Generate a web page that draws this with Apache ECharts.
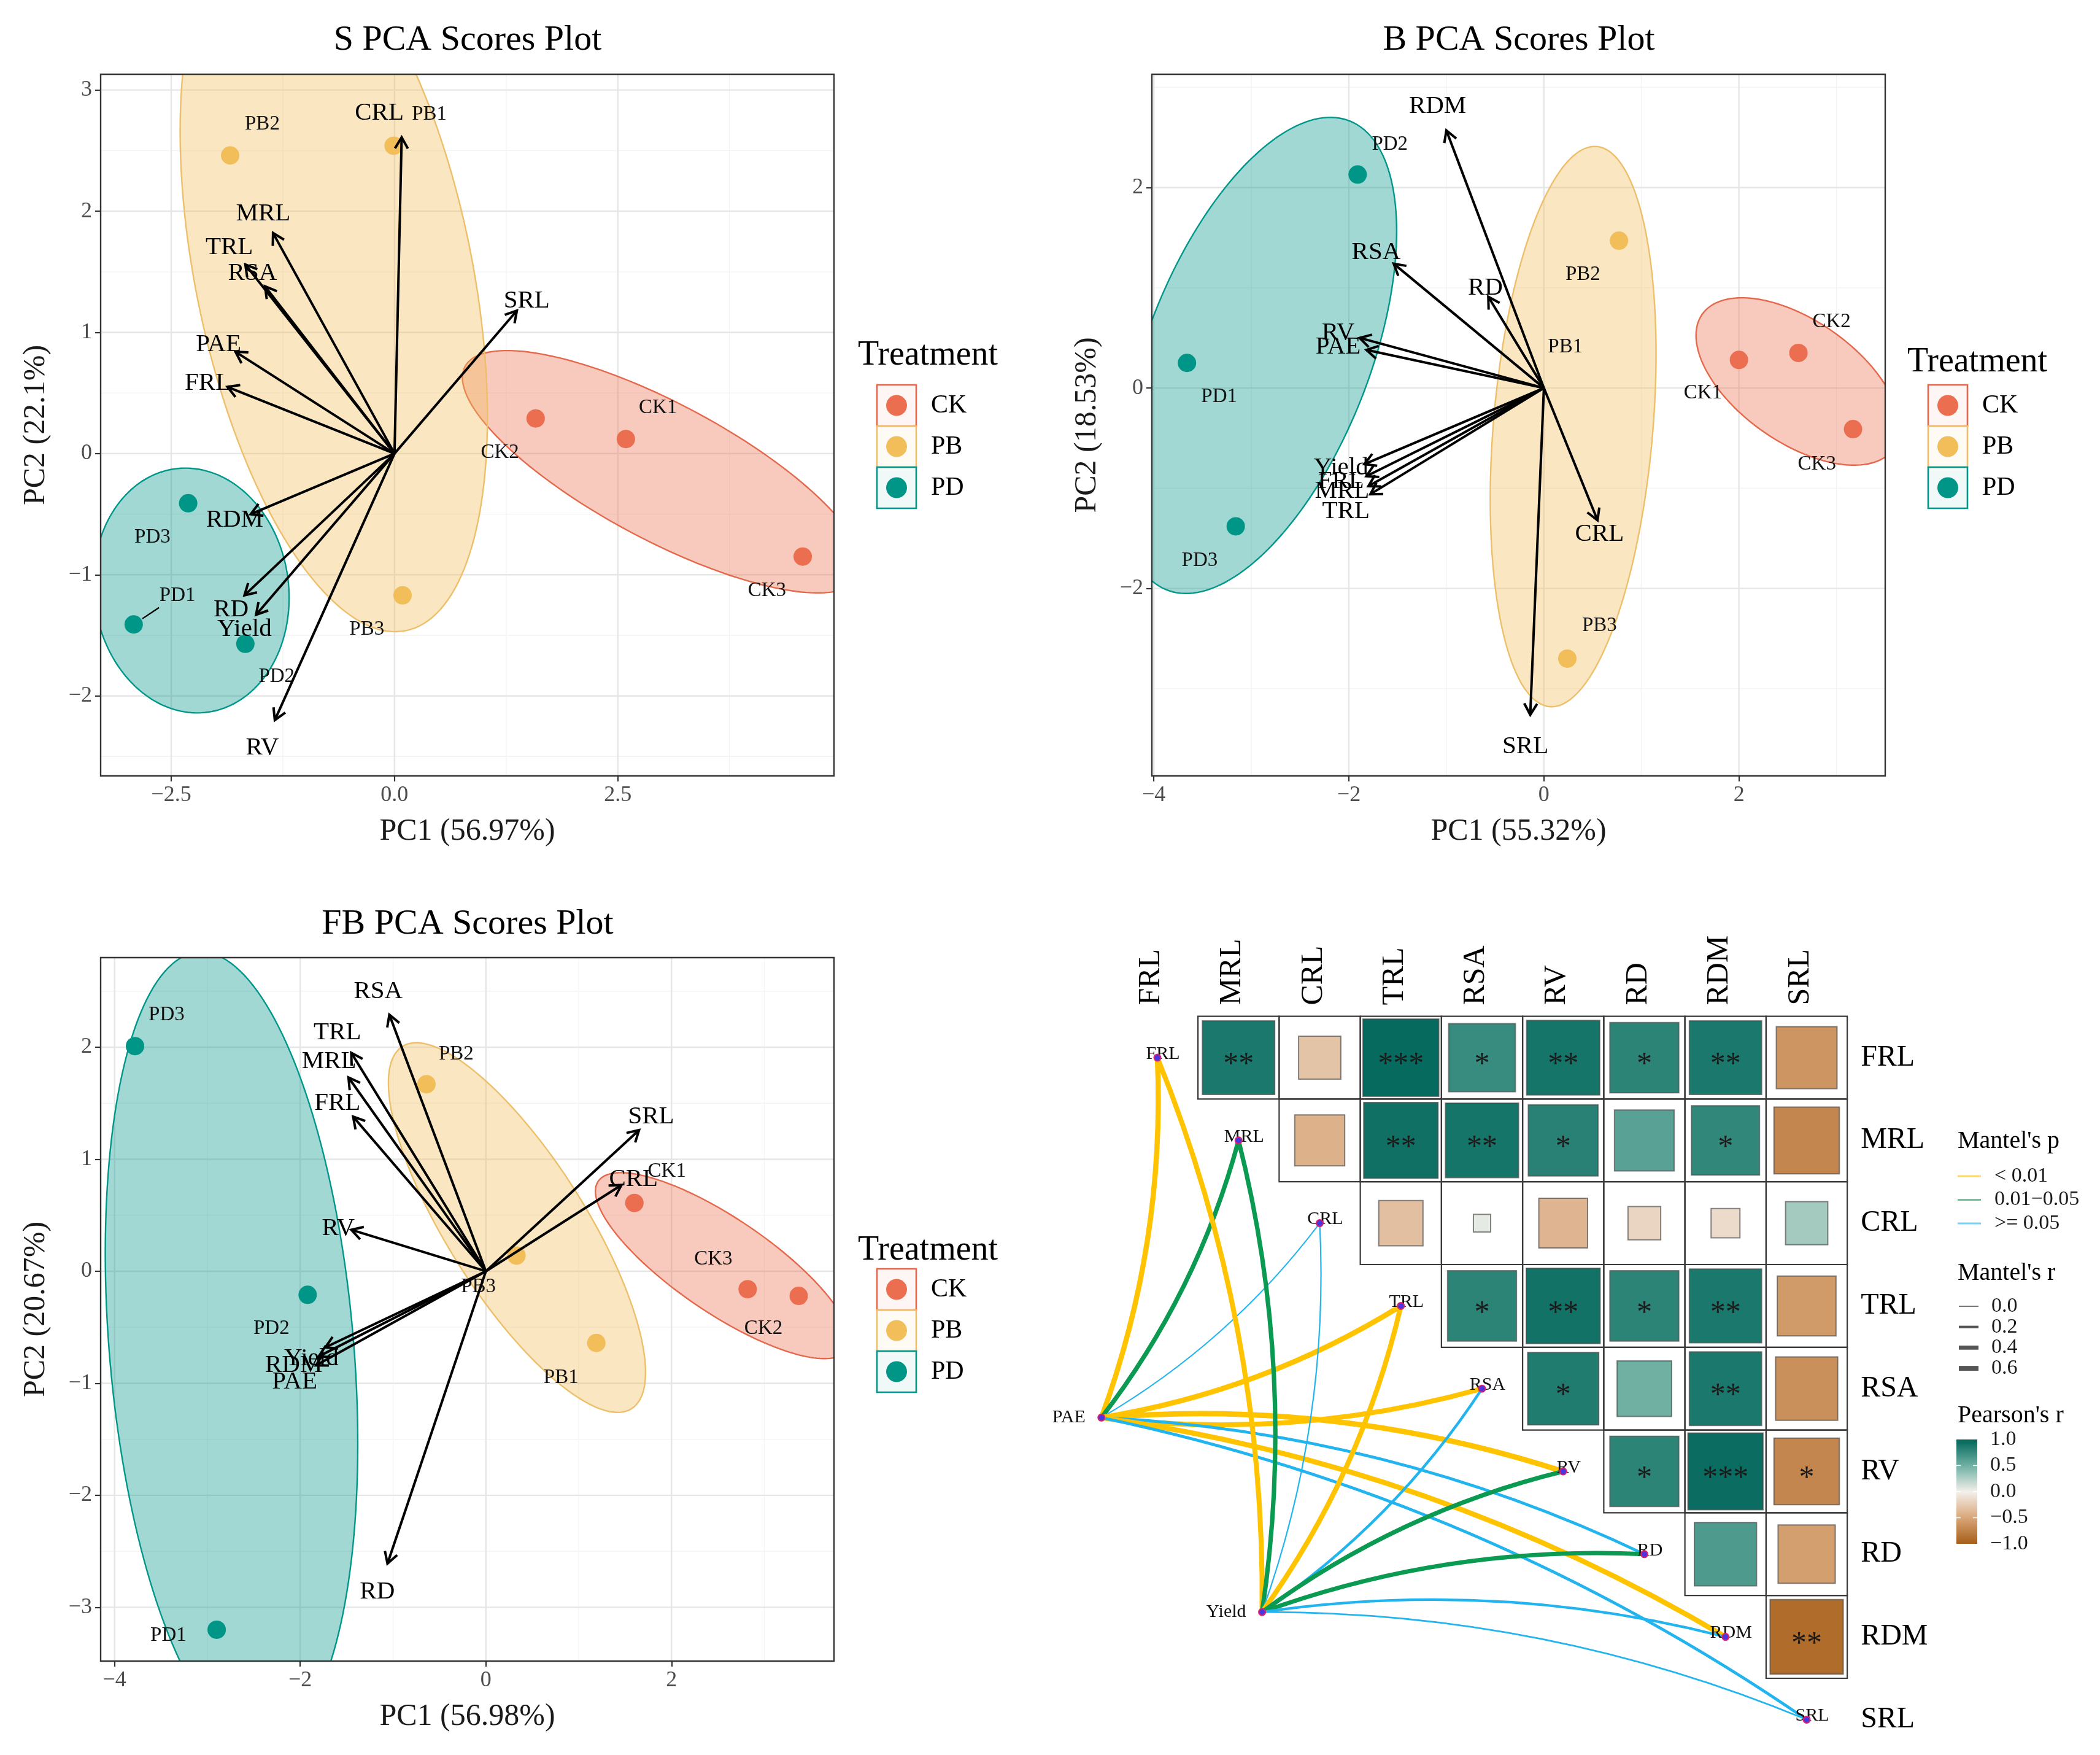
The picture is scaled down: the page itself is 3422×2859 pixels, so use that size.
<!DOCTYPE html>
<html>
<head>
<meta charset="utf-8">
<script src="https://cdn.jsdelivr.net/npm/echarts@6.0.0/dist/echarts.min.js"></script>
<style>
html,body{margin:0;padding:0;background:#ffffff;}
#chart{width:3422px;height:2859px;}
</style>
</head>
<body>
<div id="chart"></div>
<script>
// ================= DATA =================
const treatmentGroups = ['CK', 'PB', 'PD'];
const sampleNames = ['CK1', 'CK2', 'CK3', 'PB1', 'PB2', 'PB3', 'PD1', 'PD2', 'PD3'];
const sampleGroupIndex = [0, 0, 0, 1, 1, 1, 2, 2, 2];
const loadingNames = ['FRL', 'MRL', 'CRL', 'TRL', 'RSA', 'RV', 'RD', 'RDM', 'SRL', 'PAE', 'Yield'];

// ---- S PCA ----
const sTitle = 'S PCA Scores Plot';
const sXName = 'PC1 (56.97%)';
const sYName = 'PC2 (22.1%)';
const sScorePC1 = [2.59, 1.58, 4.57, -0.01, -1.84, 0.09, -2.92, -1.67, -2.31];
const sScorePC2 = [0.12, 0.29, -0.85, 2.54, 2.46, -1.17, -1.41, -1.57, -0.41];
const sSampleLabelPC1 = [2.95, 1.18, 4.17, 0.39, -1.48, -0.31, -2.43, -1.32, -2.71];
const sSampleLabelPC2 = [0.38, 0.01, -1.13, 2.80, 2.72, -1.45, -1.17, -1.84, -0.69];
const sSampleLabelLink = [0, 0, 0, 0, 0, 0, 1, 0, 0];
const sLoadPC1 = [-1.87, -1.36, 0.08, -1.67, -1.45, -1.34, -1.68, -1.61, 1.37, -1.78, -1.55];
const sLoadPC2 = [0.55, 1.82, 2.61, 1.56, 1.38, -2.20, -1.17, -0.50, 1.18, 0.84, -1.33];
const sLoadLabelPC1 = [-2.09, -1.47, -0.17, -1.85, -1.59, -1.48, -1.83, -1.79, 1.48, -1.97, -1.68];
const sLoadLabelPC2 = [0.58, 1.98, 2.81, 1.70, 1.49, -2.43, -1.29, -0.55, 1.26, 0.90, -1.45];
const sEllipseCx = [3.00, -0.68, -2.275];
const sEllipseCy = [-0.15, 1.48, -1.13];
const sEllipseHx = [2.24, 1.72, 1.095];
const sEllipseHy = [1.00, 2.95, 1.01];
const sEllipseRho = [-0.777, -0.40, -0.06];
const sXLimits = [-3.29, 4.92];
const sYLimits = [-2.66, 3.13];
const sXTicks = [-2.5, 0, 2.5];
const sXTickLabels = ['−2.5', '0.0', '2.5'];
const sYTicks = [-2, -1, 0, 1, 2, 3];
const sYTickLabels = ['−2', '−1', '0', '1', '2', '3'];
const sXMinor = [-1.25, 1.25, 3.75];
const sYMinor = [-2.5, -1.5, -0.5, 0.5, 1.5, 2.5];

// ---- B PCA ----
const bTitle = 'B PCA Scores Plot';
const bXName = 'PC1 (55.32%)';
const bYName = 'PC2 (18.53%)';
const bScorePC1 = [2.00, 2.61, 3.17, null, 0.77, 0.24, -3.66, -1.91, -3.16];
const bScorePC2 = [0.28, 0.35, -0.41, null, 1.47, -2.70, 0.25, 2.13, -1.38];
const bSampleLabelPC1 = [1.63, 2.95, 2.80, 0.22, 0.40, 0.57, -3.33, -1.58, -3.53];
const bSampleLabelPC2 = [-0.05, 0.66, -0.76, 0.41, 1.13, -2.37, -0.09, 2.43, -1.72];
const bSampleLabelLink = [0, 0, 0, 0, 0, 0, 0, 0, 0];
const bLoadPC1 = [-1.82, -1.80, 0.55, -1.78, -1.54, -1.89, -0.57, -1.00, -0.14, -1.82, -1.84];
const bLoadPC2 = [-0.88, -0.98, -1.32, -1.06, 1.24, 0.50, 0.91, 2.57, -3.26, 0.38, -0.76];
const bLoadLabelPC1 = [-2.08, -2.07, 0.57, -2.03, -1.72, -2.11, -0.60, -1.09, -0.19, -2.11, -2.08];
const bLoadLabelPC2 = [-0.93, -1.03, -1.46, -1.23, 1.35, 0.55, 1.00, 2.81, -3.58, 0.41, -0.80];
const bEllipseCx = [2.605, 0.30, -2.93];
const bEllipseCy = [0.065, -0.385, 0.325];
const bEllipseHx = [1.045, 0.85, 1.42];
const bEllipseHy = [0.835, 2.795, 2.375];
const bEllipseRho = [-0.55, 0.26, 0.521];
const bXLimits = [-4.02, 3.50];
const bYLimits = [-3.87, 3.13];
const bXTicks = [-4, -2, 0, 2];
const bXTickLabels = ['−4', '−2', '0', '2'];
const bYTicks = [-2, 0, 2];
const bYTickLabels = ['−2', '0', '2'];
const bXMinor = [-3, -1, 1, 3];
const bYMinor = [-3, -1, 1, 3];

// ---- FB PCA ----
const fbTitle = 'FB PCA Scores Plot';
const fbXName = 'PC1 (56.98%)';
const fbYName = 'PC2 (20.67%)';
const fbScorePC1 = [1.60, 3.37, 2.82, 1.19, -0.64, 0.33, -2.90, -1.92, -3.78];
const fbScorePC2 = [0.61, -0.22, -0.16, -0.64, 1.67, 0.14, -3.20, -0.21, 2.01];
const fbSampleLabelPC1 = [1.95, 2.99, 2.45, 0.81, -0.32, -0.08, -3.42, -2.31, -3.44];
const fbSampleLabelPC2 = [0.89, -0.51, 0.11, -0.95, 1.94, -0.14, -3.25, -0.51, 2.29];
const fbSampleLabelLink = [0, 0, 0, 0, 0, 0, 0, 0, 0];
const fbLoadPC1 = [-1.43, -1.48, 1.46, -1.45, -1.04, -1.45, -1.06, -1.80, 1.65, -1.83, -1.73];
const fbLoadPC2 = [1.38, 1.73, 0.77, 1.95, 2.29, 0.37, -2.61, -0.76, 1.26, -0.84, -0.68];
const fbLoadLabelPC1 = [-1.60, -1.69, 1.59, -1.60, -1.16, -1.59, -1.17, -2.07, 1.78, -2.06, -1.88];
const fbLoadLabelPC2 = [1.50, 1.87, 0.82, 2.13, 2.50, 0.38, -2.86, -0.84, 1.38, -0.99, -0.78];
const fbEllipseCx = [2.55, 0.335, -2.74];
const fbEllipseCy = [0.05, 0.39, -0.69];
const fbEllipseHx = [1.37, 1.385, 1.36];
const fbEllipseHy = [0.83, 1.65, 3.54];
const fbEllipseRho = [-0.80, -0.783, -0.24];
const fbXLimits = [-4.15, 3.75];
const fbYLimits = [-3.48, 2.80];
const fbXTicks = [-4, -2, 0, 2];
const fbXTickLabels = ['−4', '−2', '0', '2'];
const fbYTicks = [-3, -2, -1, 0, 1, 2];
const fbYTickLabels = ['−3', '−2', '−1', '0', '1', '2'];
const fbXMinor = [-3, -1, 1, 3];
const fbYMinor = [-2.5, -1.5, -0.5, 0.5, 1.5, 2.5];

// ---- Correlation / Mantel ----
const corrVars = ['FRL', 'MRL', 'CRL', 'TRL', 'RSA', 'RV', 'RD', 'RDM', 'SRL'];
const pearsonRFRL = [0.88, -0.30, 0.97, 0.75, 0.90, 0.80, 0.88, -0.62];
const pearsonRMRL = [-0.42, 0.93, 0.90, 0.82, 0.60, 0.78, -0.72];
const pearsonRCRL = [-0.33, 0.05, -0.40, -0.18, -0.14, 0.30];
const pearsonRTRL = [0.80, 0.92, 0.80, 0.88, -0.58];
const pearsonRRSA = [0.85, 0.50, 0.88, -0.65];
const pearsonRRV = [0.80, 0.95, -0.72];
const pearsonRRD = [0.65, -0.55];
const pearsonRRDM = [-0.90];
const signifFRL = ['**', '', '***', '*', '**', '*', '**', ''];
const signifMRL = ['', '**', '**', '*', '', '*', ''];
const signifCRL = ['', '', '', '', '', ''];
const signifTRL = ['*', '**', '*', '**', ''];
const signifRSA = ['*', '', '**', ''];
const signifRV = ['*', '***', '*'];
const signifRD = ['', ''];
const signifRDM = ['**'];
const pearsonRows = [pearsonRFRL, pearsonRMRL, pearsonRCRL, pearsonRTRL, pearsonRRSA, pearsonRRV, pearsonRRD, pearsonRRDM];
const signifRows = [signifFRL, signifMRL, signifCRL, signifTRL, signifRSA, signifRV, signifRD, signifRDM];

const mantelEnv = ['PAE', 'Yield'];
const mantelEnvCol = [-0.69, 1.29];   // layout position of env nodes (cell units)
const mantelEnvRow = [4.35, 6.70];
const mantelRPAE = [0.55, 0.45, 0.03, 0.55, 0.52, 0.58, 0.25, 0.55, 0.25];
const mantelPPAE = [0.001, 0.02, 0.60, 0.001, 0.001, 0.001, 0.12, 0.001, 0.15];
const mantelRYield = [0.52, 0.45, 0.05, 0.52, 0.22, 0.45, 0.42, 0.20, 0.08];
const mantelPYield = [0.001, 0.03, 0.50, 0.001, 0.10, 0.02, 0.03, 0.09, 0.30];
const mantelPLegend = ['< 0.01', '0.01−0.05', '>= 0.05'];
const mantelRLegend = [0.0, 0.2, 0.4, 0.6];
const pearsonLegend = [1.0, 0.5, 0.0, -0.5, -1.0];

// ================= STYLE =================
const FONT = "'Liberation Serif', 'Times New Roman', serif";
const groupColors = ['#EB6E50', '#F2BE5A', '#009687'];
const ellipseStroke = ['#E4694C', '#EDBF6A', '#00978A'];
const pColors = ['#FFC300', '#0B9A52', '#22B4EE'];
const pearsonStops = [[-1, [166, 94, 23]], [-0.5, [217, 166, 121]], [0, [243, 240, 235]], [0.5, [111, 176, 163]], [1, [0, 102, 90]]];

function rgba(hex, a) {
  const n = parseInt(hex.slice(1), 16);
  return 'rgba(' + ((n >> 16) & 255) + ',' + ((n >> 8) & 255) + ',' + (n & 255) + ',' + a + ')';
}
function pearsonColor(r) {
  for (let i = 0; i < pearsonStops.length - 1; i++) {
    const a = pearsonStops[i], b = pearsonStops[i + 1];
    if (r <= b[0]) {
      const t = (r - a[0]) / (b[0] - a[0]);
      const c = a[1].map((v, k) => Math.round(v + (b[1][k] - v) * t));
      return 'rgb(' + c.join(',') + ')';
    }
  }
  return 'rgb(' + pearsonStops[pearsonStops.length - 1][1].join(',') + ')';
}
function pColor(p) { return p < 0.01 ? pColors[0] : (p < 0.05 ? pColors[1] : pColors[2]); }
function rWidth(r) { return 1.6 + 12.5 * r; }
function txt(x, y, text, size, align, vAlign, color, extra) {
  return Object.assign({
    type: 'text', x: x, y: y,
    style: { text: text, fontSize: size, fontFamily: FONT, fill: color || '#000',
      align: align, verticalAlign: vAlign, textAlign: align, textVerticalAlign: vAlign }
  }, extra || {});
}

// ================= LAYOUT =================
const grids = [
  { left: 164, top: 121, width: 1195, height: 1143 },
  { left: 1877, top: 121, width: 1195, height: 1143 },
  { left: 164, top: 1560, width: 1195, height: 1146 },
  { left: 1621.5, top: 1655.6, width: 1454.75, height: 1199.7 }
];

const panels = [
  { title: sTitle, xName: sXName, yName: sYName, sx: sScorePC1, sy: sScorePC2, lx: sSampleLabelPC1, ly: sSampleLabelPC2, link: sSampleLabelLink,
    ax: sLoadPC1, ay: sLoadPC2, alx: sLoadLabelPC1, aly: sLoadLabelPC2,
    ecx: sEllipseCx, ecy: sEllipseCy, ehx: sEllipseHx, ehy: sEllipseHy, erho: sEllipseRho,
    xLim: sXLimits, yLim: sYLimits, xT: sXTicks, xTL: sXTickLabels, yT: sYTicks, yTL: sYTickLabels, xM: sXMinor, yM: sYMinor },
  { title: bTitle, xName: bXName, yName: bYName, sx: bScorePC1, sy: bScorePC2, lx: bSampleLabelPC1, ly: bSampleLabelPC2, link: bSampleLabelLink,
    ax: bLoadPC1, ay: bLoadPC2, alx: bLoadLabelPC1, aly: bLoadLabelPC2,
    ecx: bEllipseCx, ecy: bEllipseCy, ehx: bEllipseHx, ehy: bEllipseHy, erho: bEllipseRho,
    xLim: bXLimits, yLim: bYLimits, xT: bXTicks, xTL: bXTickLabels, yT: bYTicks, yTL: bYTickLabels, xM: bXMinor, yM: bYMinor },
  { title: fbTitle, xName: fbXName, yName: fbYName, sx: fbScorePC1, sy: fbScorePC2, lx: fbSampleLabelPC1, ly: fbSampleLabelPC2, link: fbSampleLabelLink,
    ax: fbLoadPC1, ay: fbLoadPC2, alx: fbLoadLabelPC1, aly: fbLoadLabelPC2,
    ecx: fbEllipseCx, ecy: fbEllipseCy, ehx: fbEllipseHx, ehy: fbEllipseHy, erho: fbEllipseRho,
    xLim: fbXLimits, yLim: fbYLimits, xT: fbXTicks, xTL: fbXTickLabels, yT: fbYTicks, yTL: fbYTickLabels, xM: fbXMinor, yM: fbYMinor }
];

function labelFor(ticks, labels) {
  return function (v) {
    for (let i = 0; i < ticks.length; i++) if (Math.abs(ticks[i] - v) < 1e-9) return labels[i];
    return '';
  };
}

const xAxes = [], yAxes = [], series = [];

panels.forEach((P, gi) => {
  xAxes.push({
    gridIndex: gi, type: 'value', min: P.xLim[0], max: P.xLim[1],
    name: P.xName, nameLocation: 'middle', nameGap: 66,
    nameTextStyle: { fontFamily: FONT, fontSize: 50, color: '#1a1a1a' },
    axisLine: { show: false, onZero: false },
    axisTick: { show: true, customValues: P.xT, length: 9, lineStyle: { color: '#333', width: 2.2 } },
    axisLabel: { show: true, customValues: P.xT, formatter: labelFor(P.xT, P.xTL), fontFamily: FONT, fontSize: 36, color: '#4D4D4D', margin: 14 },
    splitLine: { show: false }
  });
  yAxes.push({
    gridIndex: gi, type: 'value', min: P.yLim[0], max: P.yLim[1],
    name: P.yName, nameLocation: 'middle', nameGap: 80, nameRotate: 90,
    nameTextStyle: { fontFamily: FONT, fontSize: 50, color: '#1a1a1a' },
    axisLine: { show: false, onZero: false },
    axisTick: { show: true, customValues: P.yT, length: 9, lineStyle: { color: '#333', width: 2.2 } },
    axisLabel: { show: true, customValues: P.yT, formatter: labelFor(P.yT, P.yTL), fontFamily: FONT, fontSize: 36, color: '#4D4D4D', margin: 14 },
    splitLine: { show: false }
  });

  // grid lines
  const gl = [];
  P.xM.forEach(v => gl.push([v, 0, 0]));
  P.yM.forEach(v => gl.push([v, 1, 0]));
  P.xT.forEach(v => gl.push([v, 0, 1]));
  P.yT.forEach(v => gl.push([v, 1, 1]));
  series.push({
    type: 'custom', xAxisIndex: gi, yAxisIndex: gi, z: 1, silent: true, data: gl,
    renderItem: function (params, api) {
      const cs = params.coordSys;
      const v = api.value(0), dir = api.value(1), major = api.value(2);
      const style = { stroke: major ? '#E6E6E6' : '#F3F3F3', lineWidth: major ? 2.4 : 1.3 };
      if (dir === 0) {
        const x = api.coord([v, P.yLim[0]])[0];
        return { type: 'line', shape: { x1: x, y1: cs.y, x2: x, y2: cs.y + cs.height }, style: style };
      }
      const y = api.coord([P.xLim[0], v])[1];
      return { type: 'line', shape: { x1: cs.x, y1: y, x2: cs.x + cs.width, y2: y }, style: style };
    }
  });

  // ellipses
  series.push({
    type: 'custom', xAxisIndex: gi, yAxisIndex: gi, z: 2, silent: true,
    data: treatmentGroups.map((g, k) => [P.ecx[k], P.ecy[k], P.ehx[k], P.ehy[k], P.erho[k], k]),
    renderItem: function (params, api) {
      const cx = api.value(0), cy = api.value(1), hx = api.value(2), hy = api.value(3), rho = api.value(4), k = api.value(5);
      const s = Math.sqrt(1 - rho * rho);
      const pts = [];
      for (let t = 0; t < 360; t += 2) {
        const a = t * Math.PI / 180;
        pts.push(api.coord([cx + hx * Math.cos(a), cy + hy * (rho * Math.cos(a) + s * Math.sin(a))]));
      }
      const cs = params.coordSys;
      return {
        type: 'polygon', shape: { points: pts },
        style: { fill: rgba(groupColors[k], 0.37), stroke: ellipseStroke[k], lineWidth: 2.4 },
        clipPath: { type: 'rect', shape: { x: cs.x, y: cs.y, width: cs.width, height: cs.height } }
      };
    }
  });

  // points
  treatmentGroups.forEach((g, k) => {
    const data = [];
    P.sx.forEach((x, i) => { if (sampleGroupIndex[i] === k && x !== null) data.push([x, P.sy[i]]); });
    series.push({
      type: 'scatter', name: g, xAxisIndex: gi, yAxisIndex: gi, z: 3, silent: true,
      symbol: 'circle', symbolSize: 30, itemStyle: { color: groupColors[k], opacity: 1 }, data: data
    });
  });

  // sample labels
  series.push({
    type: 'custom', xAxisIndex: gi, yAxisIndex: gi, z: 4, silent: true,
    data: P.lx.map((x, i) => [x, P.ly[i], i, P.link[i], P.sx[i] === null ? 0 : P.sx[i], P.sy[i] === null ? 0 : P.sy[i]]),
    renderItem: function (params, api) {
      const lp = api.coord([api.value(0), api.value(1)]);
      const children = [txt(lp[0], lp[1], sampleNames[api.value(2)], 33, 'center', 'middle', '#111')];
      if (api.value(3)) {
        const pp = api.coord([api.value(4), api.value(5)]);
        const dx = lp[0] - pp[0], dy = lp[1] - pp[1], d = Math.sqrt(dx * dx + dy * dy);
        const ux = dx / d, uy = dy / d;
        children.push({ type: 'line', shape: { x1: pp[0] + ux * 17, y1: pp[1] + uy * 17, x2: pp[0] + ux * (d - 36), y2: pp[1] + uy * (d - 36) },
          style: { stroke: '#000', lineWidth: 2.2 } });
      }
      return { type: 'group', children: children };
    }
  });

  // arrows
  series.push({
    type: 'custom', xAxisIndex: gi, yAxisIndex: gi, z: 5, silent: true,
    data: P.ax.map((x, i) => [x, P.ay[i]]),
    renderItem: function (params, api) {
      const o = api.coord([0, 0]);
      const p = api.coord([api.value(0), api.value(1)]);
      const a = Math.atan2(p[1] - o[1], p[0] - o[0]);
      const L = 21, th = Math.PI / 6;
      const w1 = [p[0] - L * Math.cos(a - th), p[1] - L * Math.sin(a - th)];
      const w2 = [p[0] - L * Math.cos(a + th), p[1] - L * Math.sin(a + th)];
      return { type: 'group', children: [
        { type: 'line', shape: { x1: o[0], y1: o[1], x2: p[0], y2: p[1] }, style: { stroke: '#000', lineWidth: 4 } },
        { type: 'polyline', shape: { points: [w1, p, w2] }, style: { stroke: '#000', lineWidth: 4, fill: 'none', lineJoin: 'miter' } }
      ] };
    }
  });

  // loading labels
  series.push({
    type: 'custom', xAxisIndex: gi, yAxisIndex: gi, z: 6, silent: true,
    data: P.alx.map((x, i) => [x, P.aly[i], i]),
    renderItem: function (params, api) {
      const p = api.coord([api.value(0), api.value(1)]);
      return txt(p[0], p[1], loadingNames[api.value(2)], 41, 'center', 'middle', '#000');
    }
  });

  // panel frame
  series.push({
    type: 'custom', xAxisIndex: gi, yAxisIndex: gi, z: 7, silent: true,
    data: [[P.xLim[0], P.yLim[0]]],
    renderItem: function (params) {
      const cs = params.coordSys;
      return { type: 'rect', shape: { x: cs.x, y: cs.y, width: cs.width, height: cs.height }, style: { fill: 'none', stroke: '#333', lineWidth: 2.4 } };
    }
  });
});

// ================= CORRELOGRAM =================
xAxes.push({ gridIndex: 3, type: 'value', min: -2, max: 9, show: false });
yAxes.push({ gridIndex: 3, type: 'value', min: -0.5, max: 8.4, inverse: true, show: false });

const cellData = [], squareData = [], starData = [];
pearsonRows.forEach((row, i) => row.forEach((r, k) => {
  const j = i + 1 + k;
  cellData.push([j, i]);
  squareData.push([j, i, r]);
  starData.push([j, i, i, k]);
}));

series.push({
  type: 'custom', xAxisIndex: 3, yAxisIndex: 3, z: 2, silent: true, data: cellData,
  renderItem: function (params, api) {
    const c = api.coord([api.value(0), api.value(1)]);
    const s = api.size([1, 1]);
    return { type: 'rect', shape: { x: c[0] - s[0] / 2, y: c[1] - s[1] / 2, width: s[0], height: s[1] },
      style: { fill: 'none', stroke: '#3a3a3a', lineWidth: 2.2 } };
  }
});
series.push({
  type: 'custom', xAxisIndex: 3, yAxisIndex: 3, z: 3, silent: true, data: squareData,
  renderItem: function (params, api) {
    const c = api.coord([api.value(0), api.value(1)]);
    const s = api.size([1, 1]);
    const r = api.value(2);
    const f = Math.sqrt(Math.abs(r)) * 0.95;
    return { type: 'rect', shape: { x: c[0] - s[0] * f / 2, y: c[1] - s[1] * f / 2, width: s[0] * f, height: s[1] * f },
      style: { fill: pearsonColor(r), stroke: 'rgba(70,70,70,0.65)', lineWidth: 2 } };
  }
});
series.push({
  type: 'custom', xAxisIndex: 3, yAxisIndex: 3, z: 4, silent: true, data: starData,
  renderItem: function (params, api) {
    const c = api.coord([api.value(0), api.value(1)]);
    const t = signifRows[api.value(2)][api.value(3)];
    return txt(c[0], c[1] + 12, t, 50, 'center', 'middle', '#1a1a1a');
  }
});
// column labels
series.push({
  type: 'custom', xAxisIndex: 3, yAxisIndex: 3, z: 4, silent: true,
  data: corrVars.map((v, j) => [j, -0.5, j]),
  renderItem: function (params, api) {
    const c = api.coord([api.value(0), api.value(1)]);
    return txt(c[0] - 10, c[1] - 18, corrVars[api.value(2)], 50, 'left', 'middle', '#000', { rotation: Math.PI / 2 });
  }
});
// row labels
series.push({
  type: 'custom', xAxisIndex: 3, yAxisIndex: 3, z: 4, silent: true,
  data: corrVars.map((v, i) => [8.5, i, i]),
  renderItem: function (params, api) {
    const c = api.coord([api.value(0), api.value(1)]);
    return txt(c[0] + 22, c[1], corrVars[api.value(2)], 48, 'left', 'middle', '#000');
  }
});

// Mantel links
const mantelR = [mantelRPAE, mantelRYield];
const mantelP = [mantelPPAE, mantelPYield];
const linksData = [];
mantelEnv.forEach((e, ei) => corrVars.forEach((v, j) => {
  linksData.push({
    coords: [[mantelEnvCol[ei], mantelEnvRow[ei]], [j, j]],
    lineStyle: { color: pColor(mantelP[ei][j]), width: rWidth(mantelR[ei][j]), curveness: j < 5 ? -0.1 : 0.1, opacity: 1 }
  });
}));
series.push({
  type: 'lines', coordinateSystem: 'cartesian2d', xAxisIndex: 3, yAxisIndex: 3, z: 5, silent: true,
  polyline: false, lineStyle: { curveness: 0.1, opacity: 1 }, data: linksData
});

// nodes
const nodeData = corrVars.map((v, i) => [i, i]).concat(mantelEnv.map((e, k) => [mantelEnvCol[k], mantelEnvRow[k]]));
series.push({
  type: 'custom', xAxisIndex: 3, yAxisIndex: 3, z: 6, silent: true,
  data: corrVars.map((v, i) => [i, i, 0, i]).concat(mantelEnv.map((e, k) => [mantelEnvCol[k], mantelEnvRow[k], 1, k])),
  renderItem: function (params, api) {
    const c = api.coord([api.value(0), api.value(1)]);
    if (api.value(2) === 0) return txt(c[0] + 9, c[1] + 9, corrVars[api.value(3)], 30, 'center', 'bottom', '#111');
    return txt(c[0] - 26, c[1], mantelEnv[api.value(3)], 30, 'right', 'middle', '#111');
  }
});
series.push({
  type: 'scatter', xAxisIndex: 3, yAxisIndex: 3, z: 7, silent: true, symbol: 'circle', symbolSize: 11,
  itemStyle: { color: '#4A35E0', borderColor: '#E0206A', borderWidth: 2, opacity: 1 }, data: nodeData
});

// ================= GRAPHIC (titles & legends) =================
const graphics = [];
graphics.push(txt(762, 66, sTitle, 58, 'center', 'middle'));
graphics.push(txt(2475, 66, bTitle, 58, 'center', 'middle'));
graphics.push(txt(762, 1506, fbTitle, 58, 'center', 'middle'));

function treatmentLegend(tx, ty, bx, bTop, lx) {
  graphics.push(txt(tx, ty, 'Treatment', 56, 'left', 'middle'));
  treatmentGroups.forEach((g, k) => {
    const top = bTop + k * 67;
    graphics.push({ type: 'rect', shape: { x: bx, y: top, width: 64, height: 67 },
      style: { fill: rgba(groupColors[k], 0.06), stroke: ellipseStroke[k], lineWidth: 2.6 } });
    graphics.push({ type: 'circle', shape: { cx: bx + 32, cy: top + 33.5, r: 17 }, style: { fill: groupColors[k] } });
    graphics.push(txt(lx, top + 34, g, 42, 'left', 'middle'));
  });
}
treatmentLegend(1398, 579, 1429, 627, 1517);
treatmentLegend(3108, 590, 3142, 627, 3230);
treatmentLegend(1398, 2037, 1429, 2067, 1517);

// Mantel's p legend
graphics.push(txt(3190, 1859, "Mantel's p", 40, 'left', 'middle'));
mantelPLegend.forEach((lab, k) => {
  const y = 1916 + k * 38.5;
  graphics.push({ type: 'line', shape: { x1: 3190, y1: y, x2: 3228, y2: y }, style: { stroke: pColors[k], lineWidth: 3, opacity: 0.6 } });
  graphics.push(txt(3250, y, lab, 34, 'left', 'middle', '#1a1a1a'));
});
// Mantel's r legend
graphics.push(txt(3190, 2074, "Mantel's r", 40, 'left', 'middle'));
mantelRLegend.forEach((v, k) => {
  const y = 2128 + k * 33.7;
  graphics.push({ type: 'line', shape: { x1: 3192, y1: y, x2: 3224, y2: y }, style: { stroke: '#555', lineWidth: Math.min(rWidth(v), 8) } });
  graphics.push(txt(3245, y, v.toFixed(1), 34, 'left', 'middle', '#1a1a1a'));
});
// Pearson's r legend
graphics.push(txt(3190, 2306, "Pearson's r", 40, 'left', 'middle'));
const barTop = 2345, barH = 170;
graphics.push({ type: 'rect', shape: { x: 3188, y: barTop, width: 34, height: barH },
  style: { fill: new echarts.graphic.LinearGradient(0, 0, 0, 1,
    pearsonStops.slice().reverse().map(s => ({ offset: (1 - s[0]) / 2, color: 'rgb(' + s[1].join(',') + ')' }))) } });
pearsonLegend.forEach(v => {
  const y = barTop + (1 - v) / 2 * barH;
  if (Math.abs(v) < 1) {
    graphics.push({ type: 'line', shape: { x1: 3188, y1: y, x2: 3195, y2: y }, style: { stroke: '#fff', lineWidth: 1.5 } });
    graphics.push({ type: 'line', shape: { x1: 3215, y1: y, x2: 3222, y2: y }, style: { stroke: '#fff', lineWidth: 1.5 } });
  }
  graphics.push(txt(3243, y, (v < 0 ? '−' : '') + Math.abs(v).toFixed(1), 34, 'left', 'middle', '#1a1a1a'));
});

// ================= RENDER =================
const chart = echarts.init(document.getElementById('chart'), null, { renderer: 'canvas', width: 3422, height: 2859 });
chart.setOption({
  backgroundColor: '#ffffff',
  animation: false,
  textStyle: { fontFamily: FONT },
  grid: grids.map(g => Object.assign({ show: false, containLabel: false }, g)),
  xAxis: xAxes,
  yAxis: yAxes,
  series: series,
  graphic: { elements: graphics }
});
</script>
</body>
</html>
